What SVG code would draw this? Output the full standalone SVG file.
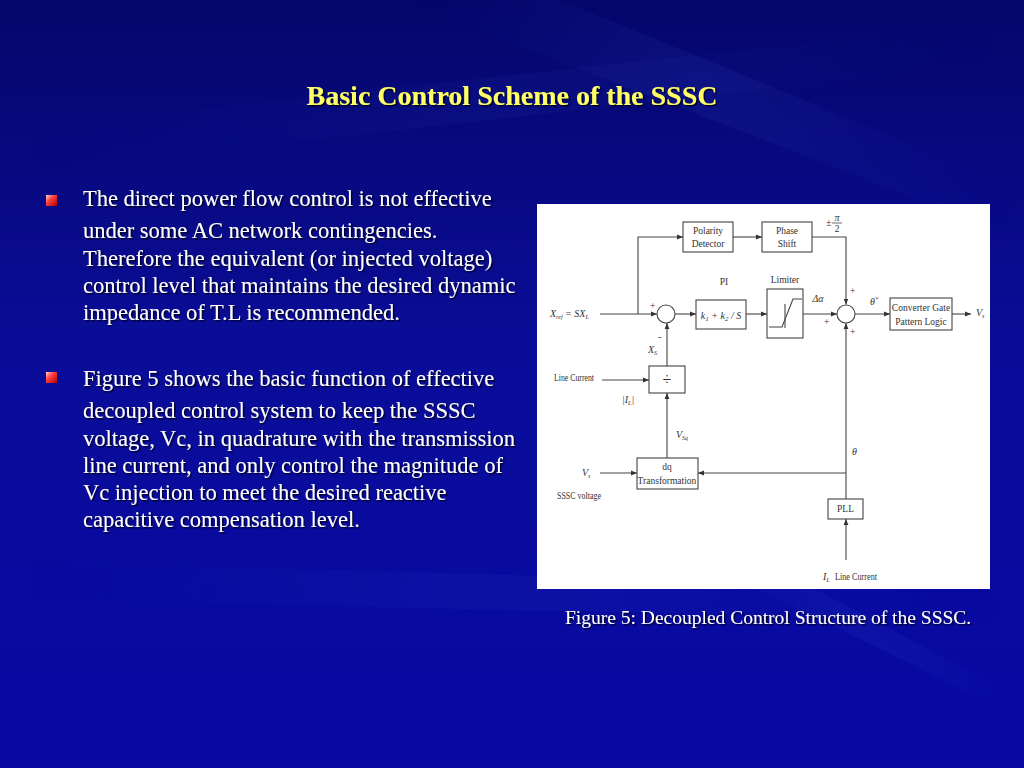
<svg xmlns="http://www.w3.org/2000/svg" width="1024" height="768" viewBox="0 0 1024 768">
<defs>
<linearGradient id="bg" x1="0" y1="0" x2="0" y2="1">
<stop offset="0" stop-color="#05066a"/>
<stop offset="0.45" stop-color="#0a0d98"/>
<stop offset="1" stop-color="#0808a4"/>
</linearGradient>
<linearGradient id="streak" x1="0" y1="0" x2="1" y2="0">
<stop offset="0" stop-color="#3a5ad8" stop-opacity="0"/>
<stop offset="0.5" stop-color="#3a5ad8" stop-opacity="0.35"/>
<stop offset="1" stop-color="#3a5ad8" stop-opacity="0"/>
</linearGradient>
<linearGradient id="bul" x1="0" y1="0" x2="1" y2="1">
<stop offset="0" stop-color="#ffd0d0"/>
<stop offset="0.4" stop-color="#ff4040"/>
<stop offset="1" stop-color="#b00000"/>
</linearGradient>
<marker id="ah" viewBox="0 0 10 10" refX="10" refY="5" markerWidth="6" markerHeight="6" orient="auto" markerUnits="userSpaceOnUse">
<path d="M0,1 L10,5 L0,9 Z" fill="#333"/>
</marker>
<filter id="sh" x="-5%" y="-20%" width="110%" height="140%">
<feDropShadow dx="1.5" dy="1.5" stdDeviation="0.6" flood-color="#000022" flood-opacity="0.9"/>
</filter>
</defs>
<style>
.body{font-family:"Liberation Serif","Times New Roman",serif;font-size:22.5px;fill:#ffffff}
.title{font-family:"Liberation Serif","Times New Roman",serif;font-size:28px;font-weight:bold;fill:#ffff66}
.cap{font-family:"Liberation Serif","Times New Roman",serif;font-size:19.5px;fill:#ffffff}
.d{font-family:"Liberation Serif","Times New Roman",serif;font-size:9.5px;fill:#333}
.di{font-family:"Liberation Serif","Times New Roman",serif;font-size:10px;font-style:italic;fill:#333}
.box{fill:#ffffff;stroke:#444;stroke-width:1.1}
.ln{fill:none;stroke:#444;stroke-width:1.1}
.c{fill:none;stroke:#444;stroke-width:1.1;marker-end:url(#ah)}
</style>
<rect width="1024" height="768" fill="url(#bg)"/>
<g opacity="0.9">
<path d="M400,0 L560,0 L1024,190 L1024,240 Z" fill="url(#streak)" opacity="0.35"/>
<path d="M0,130 L0,175 L1024,60 L1024,20 Z" fill="url(#streak)" opacity="0.25"/>
<path d="M0,560 L0,600 L1024,620 L1024,590 Z" fill="url(#streak)" opacity="0.3"/>
<path d="M700,560 L760,560 L1024,700 L1024,720 Z" fill="url(#streak)" opacity="0.4"/>
</g>

<text class="title" x="512" y="105" text-anchor="middle" filter="url(#sh)">Basic Control Scheme of the SSSC</text>

<g id="bullets">
<rect x="46" y="195" width="11" height="11" fill="url(#bul)"/>
<rect x="46" y="372" width="11" height="11" fill="url(#bul)"/>
</g>
<g filter="url(#sh)">
<text class="body" x="83" y="206">The direct power flow control is not effective</text>
<text class="body" x="83" y="238">under some AC network contingencies.</text>
<text class="body" x="83" y="266">Therefore the equivalent (or injected voltage)</text>
<text class="body" x="83" y="293">control level that maintains the desired dynamic</text>
<text class="body" x="83" y="320">impedance of T.L is recommended.</text>
<text class="body" x="83" y="386">Figure 5 shows the basic function of effective</text>
<text class="body" x="83" y="418">decoupled control system to keep the SSSC</text>
<text class="body" x="83" y="446">voltage, Vc, in quadrature with the transmission</text>
<text class="body" x="83" y="473">line current,  and only control the magnitude of</text>
<text class="body" x="83" y="500">Vc injection to meet the desired reactive</text>
<text class="body" x="83" y="527">capacitive compensation level.</text>
<text class="cap" x="565" y="624">Figure 5: Decoupled Control Structure of the SSSC.</text>
</g>

<rect x="537" y="204" width="453" height="385" fill="#ffffff"/>

<g id="connectors">
<line class="c" x1="600" y1="314" x2="657" y2="314"/>
<polyline class="c" points="638,314 638,237 683,237"/>
<line class="c" x1="733" y1="237" x2="762" y2="237"/>
<polyline class="c" points="812,237 846,237 846,304.5"/>
<line class="c" x1="675" y1="314" x2="696" y2="314"/>
<line class="c" x1="746" y1="314" x2="767" y2="314"/>
<line class="c" x1="803" y1="314" x2="837" y2="314"/>
<line class="c" x1="855" y1="314" x2="890" y2="314"/>
<line class="c" x1="952" y1="314" x2="971" y2="314"/>
<line class="c" x1="667" y1="366" x2="667" y2="323"/>
<line class="c" x1="602" y1="380" x2="649" y2="380"/>
<line class="c" x1="667" y1="458" x2="667" y2="393"/>
<line class="c" x1="600" y1="473" x2="637" y2="473"/>
<line class="c" x1="846" y1="499" x2="846" y2="323"/>
<polyline class="c" points="846,473 698,473"/>
<line class="c" x1="846" y1="560" x2="846" y2="519"/>
</g>

<g id="sum1">
<circle cx="666" cy="314" r="9" class="box"/>
<text class="d" x="650" y="309">+</text>
<text class="d" x="658" y="340">-</text>
</g>
<g id="polarity">
<rect x="683" y="222" width="50" height="30" class="box"/>
<text class="d" x="708" y="234" text-anchor="middle">Polarity</text>
<text class="d" x="708" y="247" text-anchor="middle">Detector</text>
</g>
<g id="phase">
<rect x="762" y="222" width="50" height="30" class="box"/>
<text class="d" x="787" y="234" text-anchor="middle">Phase</text>
<text class="d" x="787" y="247" text-anchor="middle">Shift</text>
<text class="di" x="826" y="226">±</text>
<text class="di" x="837" y="221" text-anchor="middle" font-size="8">π</text>
<line x1="832" y1="223" x2="842" y2="223" stroke="#444" stroke-width="0.8"/>
<text class="d" x="837" y="232" text-anchor="middle" font-size="8">2</text>
</g>
<g id="pi">
<text class="d" x="724" y="285" text-anchor="middle" font-size="8">PI</text>
<rect x="696" y="300" width="50" height="29" class="box"/>
<text class="di" x="721" y="319" text-anchor="middle" font-size="11">k<tspan font-size="7" dy="2">1</tspan><tspan dy="-2"> + k</tspan><tspan font-size="7" dy="2">2</tspan><tspan dy="-2"> / S</tspan></text>
</g>
<g id="limiter">
<text class="d" x="785" y="283" text-anchor="middle" font-size="8.5">Limiter</text>
<rect x="767" y="289" width="36" height="49" class="box"/>
<polyline class="ln" points="769,327 782,327 793,299 802,299"/>
<line class="ln" x1="785" y1="304" x2="785" y2="328" stroke-width="0.8"/>
<text class="di" x="818" y="302" text-anchor="middle">Δα</text>
</g>
<g id="sum2">
<circle cx="846" cy="314" r="9" class="box"/>
<text class="d" x="850" y="294">+</text>
<text class="d" x="824" y="325">+</text>
<text class="d" x="850" y="335">+</text>
<text class="di" x="870" y="305">θ<tspan font-size="6" dy="-4">*</tspan></text>
</g>
<g id="cgpl">
<rect x="890" y="298" width="62" height="32" class="box"/>
<text class="d" x="921" y="311" text-anchor="middle" font-size="9">Converter Gate</text>
<text class="d" x="921" y="325" text-anchor="middle" font-size="9">Pattern Logic</text>
<text class="di" x="976" y="316">V<tspan font-size="6" dy="2">s</tspan></text>
</g>
<g id="xref">
<text class="di" x="550" y="317">X<tspan font-size="6" dy="2">ref</tspan><tspan dy="-2"> = SX</tspan><tspan font-size="6" dy="2">L</tspan></text>
<text class="di" x="648" y="353">X<tspan font-size="6" dy="2">S</tspan></text>
</g>
<g id="divider">
<rect x="649" y="366" width="36" height="27" class="box"/>
<text x="667" y="385" text-anchor="middle" font-family="Liberation Serif, serif" font-size="16" fill="#333">÷</text>
<text class="d" x="554" y="381" font-size="8" textLength="40" lengthAdjust="spacingAndGlyphs">Line Current</text>
<text class="di" x="622" y="403">|I<tspan font-size="6" dy="2">L</tspan><tspan dy="-2">|</tspan></text>
<text class="di" x="676" y="438">V<tspan font-size="6" dy="2">Sq</tspan></text>
</g>
<g id="dq">
<rect x="637" y="458" width="61" height="31" class="box"/>
<text class="d" x="667" y="470" text-anchor="middle">dq</text>
<text class="d" x="667" y="484" text-anchor="middle" font-size="9">Transformation</text>
<text class="di" x="582" y="476">V<tspan font-size="6" dy="2">s</tspan></text>
<text class="d" x="557" y="499" font-size="8" textLength="44" lengthAdjust="spacingAndGlyphs">SSSC voltage</text>
<text class="di" x="852" y="455">θ</text>
</g>
<g id="pll">
<rect x="828" y="499" width="35" height="20" class="box"/>
<text class="d" x="845.5" y="512" text-anchor="middle">PLL</text>
<text class="di" x="823" y="580">I<tspan font-size="6" dy="2">L</tspan></text>
<text class="d" x="835" y="580" font-size="8.5" textLength="42" lengthAdjust="spacingAndGlyphs">Line Current</text>
</g>
</svg>
